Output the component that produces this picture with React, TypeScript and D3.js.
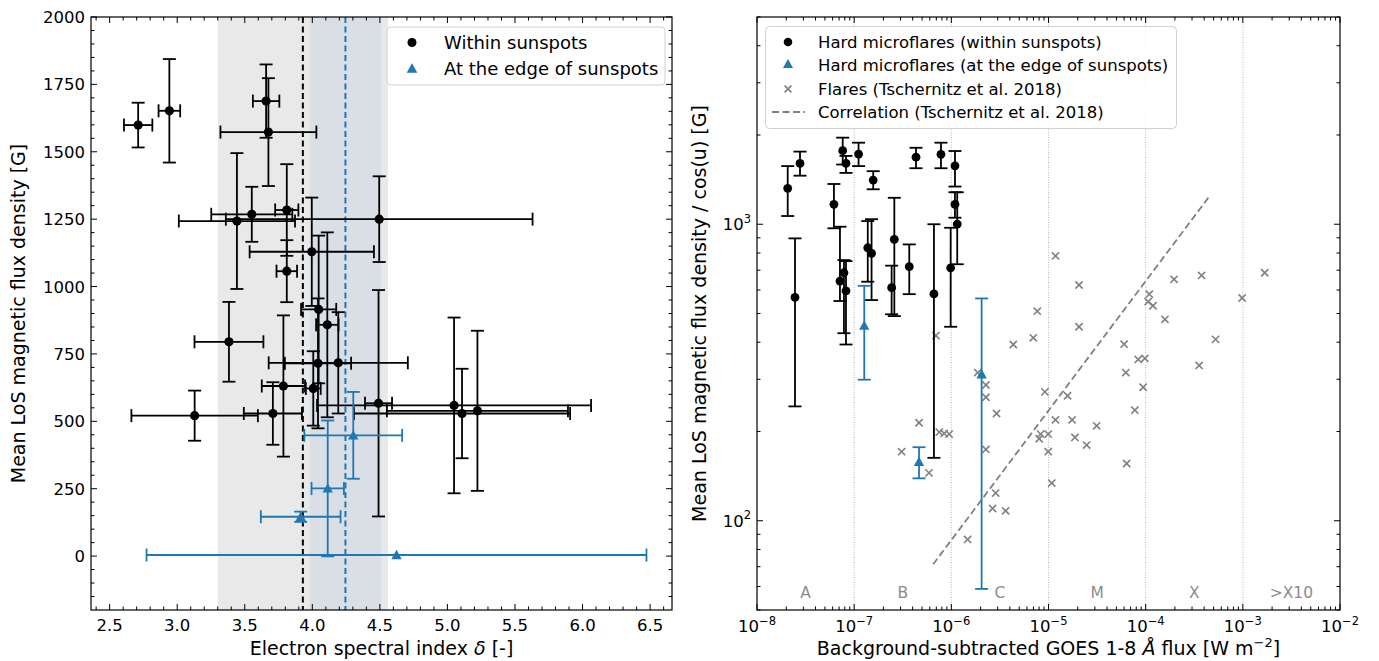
import React from 'react';
import * as d3 from 'd3';

// ---------------- Left panel data ----------------
const withinDelta = [2.711, 2.942, 3.658, 3.675, 3.442, 3.552, 3.811, 4.495, 3.811, 3.996, 4.047, 4.111, 3.383, 4.042, 4.192, 4.007, 3.786, 3.708, 3.129, 4.49, 5.049, 5.108, 5.222];
const withinDeltaErr = [0.105, 0.08, 0.098, 0.355, 0.43, 0.30, 0.086, 1.135, 0.076, 0.46, 0.13, 0.083, 0.255, 0.245, 0.515, 0.055, 0.16, 0.215, 0.468, 0.10, 1.014, 0.80, 0.67];
const withinB = [1599, 1652, 1688, 1573, 1243, 1268, 1284, 1250, 1057, 1129, 915, 858, 795, 715, 717, 622, 631, 529, 521, 567, 559, 529, 539];
const withinBErr = [83, 192, 136, 200, 252, 102, 170, 159, 115, 201, 274, 343, 148, 241, 188, 138, 262, 116, 93, 420, 326, 166, 297];

const edgeDelta = [3.914, 4.114, 4.303, 4.623];
const edgeDeltaErr = [0.295, 0.12, 0.362, 1.85];
const edgeB = [146, 251, 448, 4];
const edgeBErr = [19, 252, 161, 0];

const withinMean = 3.93;
const withinStd = 0.63;
const edgeMean = 4.245;
const edgeStd = 0.265;

const leftXTicks = [2.5, 3.0, 3.5, 4.0, 4.5, 5.0, 5.5, 6.0, 6.5];
const leftYTicks = [0, 250, 500, 750, 1000, 1250, 1500, 1750, 2000];
const leftLegend = ['Within sunspots', 'At the edge of sunspots'];

// ---------------- Right panel data ----------------
const hmGoes = [2.07e-8, 2.77e-8, 2.46e-8, 6.19e-8, 7.62e-8, 8.24e-8, 1.11e-7, 1.57e-7, 4.33e-7, 7.82e-7, 1.09e-6, 1.09e-6, 1.15e-6, 9.84e-7, 6.62e-7, 2.59e-7, 2.43e-7, 3.69e-7, 1.38e-7, 1.51e-7, 7.14e-8, 7.85e-8, 8.24e-8];
const hmB = [1322, 1604, 567, 1167, 1770, 1604, 1725, 1409, 1683, 1721, 1574, 1167, 1001, 713, 582, 889, 611, 719, 833, 798, 643, 686, 596];
const hmBLow = [1066, 1458, 243, 969, 1590, 1490, 1571, 1312, 1545, 1545, 1340, 1052, 733, 451, 163, 490, 497, 581, 640, 555, 551, 429, 393];
const hmBHigh = [1571, 1758, 896, 1367, 1959, 1700, 1884, 1510, 1811, 1884, 1766, 1282, 1282, 973, 1000, 1228, 725, 855, 1025, 1040, 981, 757, 751];

const hmEdgeGoes = [1.27e-7, 4.65e-7, 2.05e-6];
const hmEdgeB = [455, 158, 312];
const hmEdgeBLow = [299, 139, 58.9];
const hmEdgeBHigh = [620, 177, 562];

const flareGoes = [1.18e-5, 2.06e-5, 2.06e-5, 7.66e-6, 6.97e-6, 4.34e-6, 6.95e-7, 1.87e-6, 2.27e-6, 2.27e-6, 2.92e-6, 9.18e-6, 1.57e-5, 1.18e-5, 1.75e-5, 3.13e-5, 8.3e-6, 9.93e-6, 8.02e-6, 1.87e-5, 2.47e-5, 9.93e-6, 1.08e-5, 4.65e-7, 3.08e-7, 5.89e-7, 7.52e-7, 8.45e-7, 9.5e-7, 2.27e-6, 2.86e-6, 2.66e-6, 3.62e-6, 1.47e-6, 6.01e-5, 6.25e-5, 8.38e-5, 9.82e-5, 9.42e-5, 7.74e-5, 6.37e-5, 1.09e-4, 1.06e-4, 1.19e-4, 1.58e-4, 1.96e-4, 3.76e-4, 9.84e-4, 5.24e-4, 3.55e-4, 1.68e-3];
const flareB = [782, 624, 451, 509, 414, 393, 421, 316, 287, 261, 230, 272, 264, 219, 219, 209, 196, 196, 189, 191, 180, 171, 134, 214, 171, 145, 199, 197, 196, 174, 124, 110, 108, 86.5, 394, 316, 350, 353, 282, 236, 156, 581, 548, 531, 478, 652, 672, 564, 409, 334, 686];

const corrGoes = [6.5e-7, 4.57e-4];
const corrB = [71.3, 1248];

const goesClassEdges = [1e-8, 1e-7, 1e-6, 1e-5, 1e-4, 1e-3, 1e-2];
const goesClasses = ['A', 'B', 'C', 'M', 'X', '>X10'];
const rightXTickExp = [-8, -7, -6, -5, -4, -3, -2];
const rightYTickExp = [2, 3];
const rightLegend = [
  'Hard microflares (within sunspots)',
  'Hard microflares (at the edge of sunspots)',
  'Flares (Tschernitz et al. 2018)',
  'Correlation (Tschernitz et al. 2018)',
];

const BLUE = '#1f77b4';
const GRAY = '#808080';
const FONT = 'DejaVu Sans, sans-serif';
const TICK_FS = 16.5;
const LABEL_FS = 19;

const L = { x0: 91, x1: 672, y0: 17, y1: 610 };
const R = { x0: 757, x1: 1340, y0: 17, y1: 610 };

function ErrBar({ x, y, x1, x2, y1, y2, color, cap = 6.5, w = 1.8 }: any) {
  const els: any[] = [];
  if (x1 !== undefined && x2 !== undefined && x2 - x1 > 0.5) {
    els.push(<line key="h" x1={x1} x2={x2} y1={y} y2={y} stroke={color} strokeWidth={w} />);
    els.push(<line key="hc1" x1={x1} x2={x1} y1={y - cap} y2={y + cap} stroke={color} strokeWidth={w} />);
    els.push(<line key="hc2" x1={x2} x2={x2} y1={y - cap} y2={y + cap} stroke={color} strokeWidth={w} />);
  }
  if (y1 !== undefined && y2 !== undefined && Math.abs(y2 - y1) > 0.5) {
    els.push(<line key="v" x1={x} x2={x} y1={y1} y2={y2} stroke={color} strokeWidth={w} />);
    els.push(<line key="vc1" x1={x - cap} x2={x + cap} y1={y1} y2={y1} stroke={color} strokeWidth={w} />);
    els.push(<line key="vc2" x1={x - cap} x2={x + cap} y1={y2} y2={y2} stroke={color} strokeWidth={w} />);
  }
  return <g>{els}</g>;
}

function Tri({ x, y, s = 5.2, color }: any) {
  const p = `M${x},${y - s}L${x + s},${y + s * 0.8}L${x - s},${y + s * 0.8}Z`;
  return <path d={p} fill={color} />;
}

function Cross({ x, y, s = 3.6, color }: any) {
  return (
    <g stroke={color} strokeWidth={1.6}>
      <line x1={x - s} x2={x + s} y1={y - s} y2={y + s} />
      <line x1={x - s} x2={x + s} y1={y + s} y2={y - s} />
    </g>
  );
}

function LeftPanel() {
  const x = d3.scaleLinear().domain([2.362, 6.662]).range([L.x0, L.x1]);
  const y = d3.scaleLinear().domain([-200, 2000]).range([L.y1, L.y0]);
  const minorX = d3.range(24, 67).map((v) => v / 10).filter((v) => x(v) > L.x0 + 0.5 && x(v) < L.x1 - 0.5);
  const minorY = d3.range(-150, 2001, 50);
  const ticks: any[] = [];
  minorX.forEach((v, i) => {
    const isMajor = Math.abs(v * 2 - Math.round(v * 2)) < 1e-6;
    const len = isMajor ? 6 : 3.5;
    ticks.push(<line key={'bx' + i} x1={x(v)} x2={x(v)} y1={L.y1} y2={L.y1 - len} stroke="#000" />);
    ticks.push(<line key={'tx' + i} x1={x(v)} x2={x(v)} y1={L.y0} y2={L.y0 + len} stroke="#000" />);
  });
  minorY.forEach((v, i) => {
    const isMajor = v % 250 === 0;
    const len = isMajor ? 6 : 3.5;
    ticks.push(<line key={'ly' + i} x1={L.x0} x2={L.x0 + len} y1={y(v)} y2={y(v)} stroke="#000" />);
    ticks.push(<line key={'ry' + i} x1={L.x1} x2={L.x1 - len} y1={y(v)} y2={y(v)} stroke="#000" />);
  });
  return (
    <g>
      <rect x={x(withinMean - withinStd)} y={L.y0} width={x(withinMean + withinStd) - x(withinMean - withinStd)} height={L.y1 - L.y0} fill="#e9e9e9" />
      <rect x={x(edgeMean - edgeStd)} y={L.y0} width={x(edgeMean + edgeStd) - x(edgeMean - edgeStd)} height={L.y1 - L.y0} fill="#dadfe6" />
      <line x1={x(withinMean)} x2={x(withinMean)} y1={L.y0} y2={L.y1} stroke="#000" strokeWidth={2} strokeDasharray="6,3.5" />
      <line x1={x(edgeMean)} x2={x(edgeMean)} y1={L.y0} y2={L.y1} stroke={BLUE} strokeWidth={2} strokeDasharray="6,3.5" />
      {withinDelta.map((d, i) => (
        <ErrBar key={'we' + i} x={x(d)} y={y(withinB[i])} x1={x(d - withinDeltaErr[i])} x2={x(d + withinDeltaErr[i])} y1={y(withinB[i] + withinBErr[i])} y2={y(withinB[i] - withinBErr[i])} color="#000" />
      ))}
      {withinDelta.map((d, i) => (
        <circle key={'wp' + i} cx={x(d)} cy={y(withinB[i])} r={4.6} fill="#000" />
      ))}
      {edgeDelta.map((d, i) => (
        <ErrBar key={'ee' + i} x={x(d)} y={y(edgeB[i])} x1={x(d - edgeDeltaErr[i])} x2={x(d + edgeDeltaErr[i])} y1={y(edgeB[i] + edgeBErr[i])} y2={y(edgeB[i] - edgeBErr[i])} color={BLUE} />
      ))}
      {edgeDelta.map((d, i) => (
        <Tri key={'ep' + i} x={x(d)} y={y(edgeB[i])} color={BLUE} />
      ))}
      {ticks}
      <rect x={L.x0} y={L.y0} width={L.x1 - L.x0} height={L.y1 - L.y0} fill="none" stroke="#000" strokeWidth={1.2} />
      {leftXTicks.map((v) => (
        <text key={'xl' + v} x={x(v)} y={L.y1 + 21} textAnchor="middle" fontSize={TICK_FS} fontFamily={FONT}>{v.toFixed(1)}</text>
      ))}
      {leftYTicks.map((v) => (
        <text key={'yl' + v} x={L.x0 - 6} y={y(v) + 6} textAnchor="end" fontSize={TICK_FS} fontFamily={FONT}>{v}</text>
      ))}
      <text x={(L.x0 + L.x1) / 2} y={655} textAnchor="middle" fontSize={LABEL_FS} fontFamily={FONT}>
        Electron spectral index <tspan fontStyle="italic">δ</tspan> [-]
      </text>
      <text transform={`translate(25,${(L.y0 + L.y1) / 2}) rotate(-90)`} textAnchor="middle" fontSize={LABEL_FS} fontFamily={FONT}>
        Mean LoS magnetic flux density [G]
      </text>
      {/* legend */}
      <rect x={387} y={27} width={278} height={58} rx={4} fill="#fff" fillOpacity={0.85} stroke="#d0d0d0" />
      <circle cx={412} cy={42.5} r={4.5} fill="#000" />
      <Tri x={412} y={68.5} s={5.3} color={BLUE} />
      <text x={444} y={49} fontSize={18} fontFamily={FONT}>{leftLegend[0]}</text>
      <text x={444} y={75} fontSize={18} fontFamily={FONT}>{leftLegend[1]}</text>
    </g>
  );
}

function RightPanel() {
  const x = d3.scaleLog().domain([1e-8, 1e-2]).range([R.x0, R.x1]);
  const y = d3.scaleLog().domain([50, 5000]).range([R.y1, R.y0]);
  const ticks: any[] = [];
  for (let e = -8; e <= -2; e++) {
    for (let m = 1; m <= 9; m++) {
      const v = m * Math.pow(10, e);
      if (v > 1e-2 * 1.0001) continue;
      const px = x(v);
      const len = m === 1 ? 6 : 3.5;
      ticks.push(<line key={`bx${e}_${m}`} x1={px} x2={px} y1={R.y1} y2={R.y1 - len} stroke="#000" />);
      ticks.push(<line key={`tx${e}_${m}`} x1={px} x2={px} y1={R.y0} y2={R.y0 + len} stroke="#000" />);
    }
  }
  for (let e = 1; e <= 3; e++) {
    for (let m = 1; m <= 9; m++) {
      const v = m * Math.pow(10, e);
      if (v < 50 || v > 5000) continue;
      const py = y(v);
      const len = m === 1 ? 6 : 3.5;
      ticks.push(<line key={`ly${e}_${m}`} x1={R.x0} x2={R.x0 + len} y1={py} y2={py} stroke="#000" />);
      ticks.push(<line key={`ry${e}_${m}`} x1={R.x1} x2={R.x1 - len} y1={py} y2={py} stroke="#000" />);
    }
  }
  const corrLine = d3.line<number>().x((_, i) => x(corrGoes[i])).y((d) => y(d))(corrB);
  return (
    <g>
      {goesClassEdges.slice(1, -1).map((v) => (
        <line key={'gl' + v} x1={x(v)} x2={x(v)} y1={R.y0} y2={R.y1} stroke="#b0b0b0" strokeWidth={0.9} strokeDasharray="1,1.5" />
      ))}
      {goesClasses.map((c, i) => (
        <text key={'gc' + c} x={x(Math.sqrt(goesClassEdges[i] * goesClassEdges[i + 1]))} y={598} textAnchor="middle" fontSize={15.5} fontFamily={FONT} fill="#8c8c8c">{c}</text>
      ))}
      {flareGoes.map((g, i) => (
        <Cross key={'fl' + i} x={x(g)} y={y(flareB[i])} color={GRAY} />
      ))}
      <path d={corrLine || ''} fill="none" stroke={GRAY} strokeWidth={1.8} strokeDasharray="7,3.5" />
      {hmGoes.map((g, i) => (
        <ErrBar key={'he' + i} x={x(g)} y={y(hmB[i])} y1={y(hmBHigh[i])} y2={y(hmBLow[i])} color="#000" />
      ))}
      {hmGoes.map((g, i) => (
        <circle key={'hp' + i} cx={x(g)} cy={y(hmB[i])} r={4.4} fill="#000" />
      ))}
      {hmEdgeGoes.map((g, i) => (
        <ErrBar key={'hee' + i} x={x(g)} y={y(hmEdgeB[i])} y1={y(hmEdgeBHigh[i])} y2={y(hmEdgeBLow[i])} color={BLUE} />
      ))}
      {hmEdgeGoes.map((g, i) => (
        <Tri key={'hep' + i} x={x(g)} y={y(hmEdgeB[i])} color={BLUE} />
      ))}
      {ticks}
      <rect x={R.x0} y={R.y0} width={R.x1 - R.x0} height={R.y1 - R.y0} fill="none" stroke="#000" strokeWidth={1.2} />
      {rightXTickExp.map((e) => (
        <text key={'rx' + e} x={x(Math.pow(10, e))} y={R.y1 + 22} textAnchor="middle" fontSize={TICK_FS} fontFamily={FONT}>
          10<tspan dy={-7.5} fontSize={11.5}>{'\u2212' + Math.abs(e)}</tspan>
        </text>
      ))}
      {rightYTickExp.map((e) => (
        <text key={'ry' + e} x={R.x0 - 6} y={y(Math.pow(10, e)) + 6} textAnchor="end" fontSize={TICK_FS} fontFamily={FONT}>
          10<tspan dy={-7.5} fontSize={11.5}>{e}</tspan>
        </text>
      ))}
      <text x={(R.x0 + R.x1) / 2} y={655} textAnchor="middle" fontSize={LABEL_FS} fontFamily={FONT}>
        Background-subtracted GOES 1-8 <tspan fontStyle="italic">Å</tspan> flux [W m<tspan dy={-8} fontSize={13}>−2</tspan><tspan dy={8}>]</tspan>
      </text>
      <text transform={`translate(706,${(R.y0 + R.y1) / 2}) rotate(-90)`} textAnchor="middle" fontSize={LABEL_FS} fontFamily={FONT}>
        Mean LoS magnetic flux density / cos(u) [G]
      </text>
      {/* legend */}
      <rect x={765.5} y={26.5} width={411} height={102} rx={4} fill="#fff" fillOpacity={0.85} stroke="#d0d0d0" />
      <circle cx={788} cy={42} r={4.3} fill="#000" />
      <Tri x={788} y={64} s={5} color={BLUE} />
      <Cross x={788} y={89} s={3.4} color={GRAY} />
      <line x1={772} x2={805} y1={112} y2={112} stroke={GRAY} strokeWidth={1.8} strokeDasharray="7,3.5" />
      {rightLegend.map((t, i) => (
        <text key={'rl' + i} x={818} y={48 + i * 23.3} fontSize={16.5} fontFamily={FONT}>{t}</text>
      ))}
    </g>
  );
}

export default function App() {
  return (
    <svg width={1379} height={661} style={{ position: 'absolute', left: 0, top: 0, background: '#fff' }}>
      <rect x={0} y={0} width={1379} height={661} fill="#fff" />
      <LeftPanel />
      <RightPanel />
    </svg>
  );
}
